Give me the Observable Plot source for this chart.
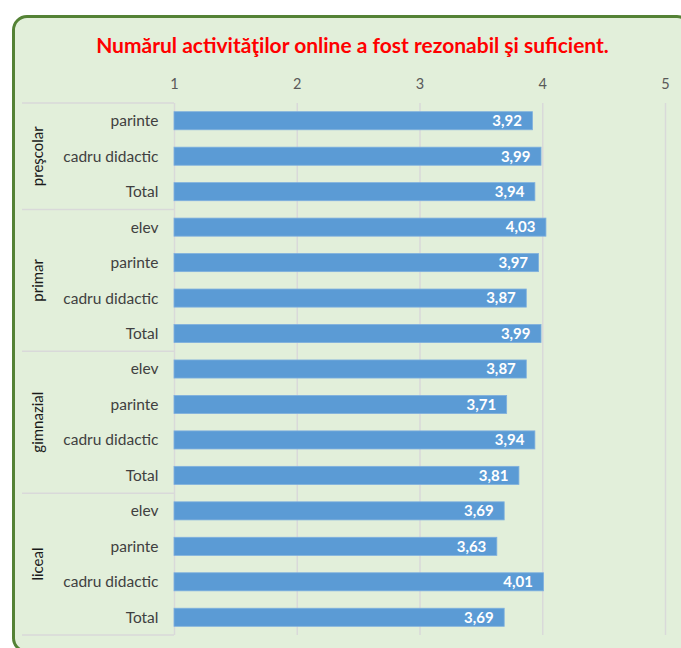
<!DOCTYPE html>
<html>
<head>
<meta charset="utf-8">
<script src="https://cdn.jsdelivr.net/npm/d3@7"></script>
<script src="https://cdn.jsdelivr.net/npm/@observablehq/plot@0.6"></script>
<style>
  html, body { margin: 0; padding: 0; background: #ffffff; }
  #wrap { position: relative; width: 681px; height: 648px; overflow: hidden; font-family: Lato, "Open Sans", sans-serif; }
  #box { position: absolute; left: 12px; top: 15px; width: 680px; height: 638px; box-sizing: border-box;
         border: 3px solid #548235; border-radius: 15px; background: #E2EFDA; }
  #title { position: absolute; left: 0; top: 0; width: 681px; height: 58px; box-sizing: border-box; padding-top: 33px;
           text-align: center; color: #FF0000; font-weight: bold; font-size: 21px; line-height: 24px; white-space: nowrap; }
  #title span { position: relative; left: 12px; }
  #chart { position: absolute; left: 0; top: 58px; }
</style>
</head>
<body>
<div id="wrap">
  <div id="box"></div>
  <div id="title"><span>Numărul activităţilor online a fost rezonabil şi suficient.</span></div>
  <div id="chart"></div>
</div>
<script>
// ---- data ----
const groupOf = ["preşcolar","preşcolar","preşcolar",
                 "primar","primar","primar","primar",
                 "gimnazial","gimnazial","gimnazial","gimnazial",
                 "liceal","liceal","liceal","liceal"];
const categoryOf = ["parinte","cadru didactic","Total",
                    "elev","parinte","cadru didactic","Total",
                    "elev","parinte","cadru didactic","Total",
                    "elev","parinte","cadru didactic","Total"];
const values = [3.92, 3.99, 3.94,
                4.03, 3.97, 3.87, 3.99,
                3.87, 3.71, 3.94, 3.81,
                3.69, 3.63, 4.01, 3.69];
const groups = ["preşcolar","primar","gimnazial","liceal"];
const xTicks = [1, 2, 3, 4, 5];

const rows = values.map((v, i) => ({key: groupOf[i] + "|" + categoryOf[i], group: groupOf[i], category: categoryOf[i], value: v}));
const fmt = v => d3.format(".2f")(v).replace(".", ",");

const plot = Plot.plot({
  width: 681,
  height: 590,
  marginLeft: 174,
  marginRight: 16,
  marginTop: 45,
  marginBottom: 13,
  style: {background: "transparent", fontFamily: "Lato, 'Open Sans', sans-serif", fontSize: "14px"},
  x: {domain: [1, 5], ticks: xTicks, label: null},
  y: {domain: rows.map(d => d.key), paddingInner: 0.49, paddingOuter: 0.245, round: false, label: null},
  marks: [
    Plot.gridX(xTicks.slice(1), {stroke: "#D9D9D9", strokeOpacity: 1, strokeWidth: 1.5}),
    Plot.ruleX([1], {stroke: "#D9D9D9", strokeWidth: 1.5}),
    Plot.axisX(xTicks, {anchor: "top", tickSize: 0, tickPadding: 15, fontSize: 14.5, fill: "#595959", label: null, tickFormat: d => String(d)}),
    Plot.axisY({tickSize: 0, tickPadding: 16, fontSize: 15.5, fill: "#404040", label: null, tickFormat: d => d.split("|")[1]}),
    Plot.barX(rows, {y: "key", x1: 1, x2: "value", fill: "#5B9BD5", stroke: "#7FB0DE", strokeWidth: 0.8}),
    Plot.text(rows, {y: "key", x: "value", text: d => fmt(d.value), textAnchor: "end", dx: -11,
                     fill: "#ffffff", fontWeight: "bold", fontSize: 15})
  ]
});

// Group separators and rotated group labels using the plot's y scale
const ys = plot.scale("y");
const xs = plot.scale("x");
const step = ys.step, bw = ys.bandwidth;
const gap = (step - bw) / 2;
const svg = d3.select(plot);
const left = 22, right = xs.apply(1);
const g = svg.append("g");
groups.forEach((grp, gi) => {
  const keys = rows.filter(d => d.group === grp).map(d => d.key);
  const top = ys.apply(keys[0]) - gap;
  const bottom = ys.apply(keys[keys.length - 1]) + bw + gap;
  if (gi === 0) {
    g.append("line").attr("x1", left).attr("x2", right).attr("y1", top).attr("y2", top)
      .attr("stroke", "#D9D9D9").attr("stroke-width", 1.5);
  }
  g.append("line").attr("x1", left).attr("x2", right).attr("y1", bottom).attr("y2", bottom)
    .attr("stroke", "#D9D9D9").attr("stroke-width", 1.5);
  const cy = (top + bottom) / 2;
  g.append("text").attr("transform", `translate(37,${cy}) rotate(-90)`)
    .attr("text-anchor", "middle").attr("dominant-baseline", "central")
    .attr("font-size", 15).attr("fill", "#1a1a1a").text(grp);
});

document.getElementById("chart").appendChild(plot);
</script>
</body>
</html>
